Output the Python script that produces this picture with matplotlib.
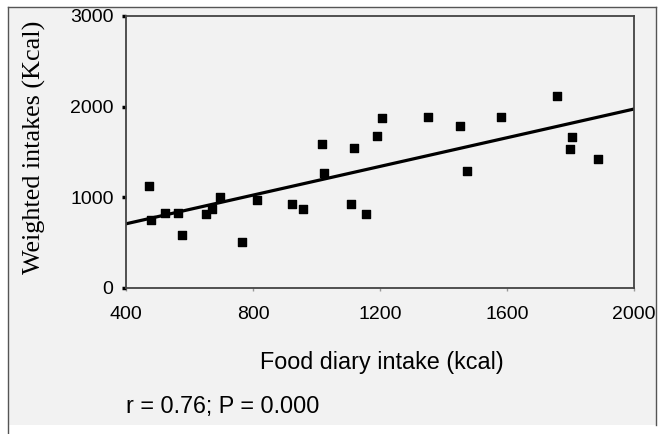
import matplotlib
matplotlib.use("Agg")
import matplotlib.pyplot as plt
from matplotlib.lines import Line2D
from matplotlib.patches import Rectangle

# food diary intake (kcal) vs weighted intakes (kcal)
diary_kcal = [473, 480, 523, 564, 577, 652, 671, 695, 764, 814,
              922, 959, 1016, 1025, 1108, 1117, 1155, 1192, 1207, 1352,
              1453, 1473, 1580, 1756, 1804, 1798, 1888]
weighed_kcal = [1125, 749, 827, 827, 587, 812, 871, 1007, 509, 974,
                930, 871, 1590, 1266, 930, 1542, 812, 1679, 1875, 1889,
                1786, 1288, 1889, 2114, 1664, 1528, 1424]

# fitted regression line
fit_x = [400, 2000]
fit_y = [708, 1974]

x_ticks = [400, 800, 1200, 1600, 2000]
y_ticks = [0, 1000, 2000, 3000]

bg = "#f2f2f2"
W, H = 670, 434

fig = plt.figure(figsize=(6.7, 4.34), dpi=100)
fig.patch.set_facecolor("white")

# grey panel with a thin frame like the scanned figure
fig.add_artist(Rectangle((8 / W, 1 - 425 / H), 648 / W, 418 / H,
                         transform=fig.transFigure, facecolor=bg,
                         edgecolor="none", zorder=-10))
frame = dict(transform=fig.transFigure, color="#555555", lw=1.0)
fig.add_artist(Line2D([8 / W, 656 / W], [1 - 7 / H, 1 - 7 / H], **frame))
fig.add_artist(Line2D([8 / W, 8 / W], [0, 1 - 7 / H], **frame))
fig.add_artist(Line2D([656 / W, 656 / W], [1 - 425 / H, 1 - 7 / H], **frame))

ax = fig.add_axes([126 / W, 1 - 288 / H, 508 / W, 272 / H])
ax.set_facecolor(bg)

ax.scatter(diary_kcal, weighed_kcal, marker="s", s=32, color="black",
           zorder=3, clip_on=False)
ax.plot(fit_x, fit_y, color="black", lw=2.3, zorder=2)

ax.set_xlim(400, 2000)
ax.set_ylim(0, 3000)
ax.set_xticks(x_ticks)
ax.set_yticks(y_ticks)

for s in ax.spines.values():
    s.set_color("#444444")
    s.set_linewidth(1.3)

ax.tick_params(axis="y", direction="out", length=3, width=2.5, color="black",
               pad=6, labelsize=14)
ax.tick_params(axis="x", direction="out", length=2, width=1, color="#999999",
               pad=11, labelsize=14)
for lab in ax.get_xticklabels() + ax.get_yticklabels():
    lab.set_fontfamily("Liberation Sans")

fig.text(34 / W, 1 - 147 / H, "Weighted intakes (Kcal)", rotation=90,
         ha="center", va="center", fontsize=18.8, family="Liberation Serif")
fig.text(382 / W, 1 - 362 / H, "Food diary intake (kcal)",
         ha="center", va="center", fontsize=16.8, family="Liberation Sans")
fig.text(126 / W, 1 - 407 / H, "r = 0.76; P = 0.000",
         ha="left", va="center", fontsize=16.8, family="Liberation Sans")

fig.savefig("out.png", dpi=100)
